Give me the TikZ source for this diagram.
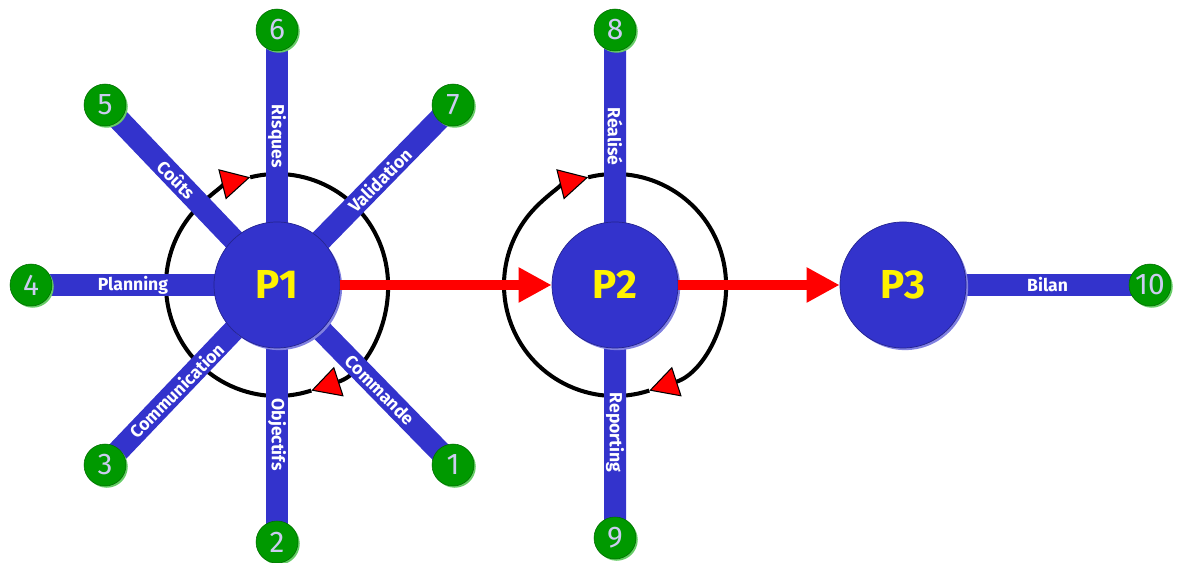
\documentclass[tikz,border=0pt]{standalone}
\usepackage{fontspec}
\setmainfont{Fira Sans}
\usetikzlibrary{arrows.meta, shadows, backgrounds, positioning}

\definecolor{pblue}{HTML}{3333CC}
\definecolor{plight}{HTML}{8080E0}
\definecolor{ngreen}{HTML}{009900}
\definecolor{nlight}{HTML}{66CC66}
\definecolor{numtxt}{HTML}{CCCCF0}

\begin{document}
\begin{tikzpicture}[node distance=6.76cm,
 proc/.style={circle, fill=pblue, draw=pblue!70!black, line width=0.4pt,
   minimum size=2.52cm, inner sep=0pt, text=yellow,
   font=\bfseries\fontsize{23}{23}\selectfont,
   drop shadow={shadow xshift=1.2pt, shadow yshift=-1.2pt, fill=plight, opacity=1}},
 num/.style={circle, fill=ngreen, draw=ngreen!70!black, line width=0.3pt,
   minimum size=0.84cm, inner sep=0pt, text=numtxt,
   font=\fontsize{17}{17}\selectfont,
   drop shadow={shadow xshift=1pt, shadow yshift=-1pt, fill=nlight, opacity=1}},
 bar/.style={draw=pblue, line width=0.44cm, shorten <=-0.2cm, shorten >=-0.2cm},
 lbl/.style={text=white, inner sep=0pt, anchor=center,
   font=\bfseries\fontsize{10}{10}\selectfont},
 ring/.style={draw=black, line width=2.3pt},
 turn/.style={-{Triangle[length=0.58cm, width=0.62cm, fill=red, line width=0.6pt]}},
 flow/.style={draw=red, line width=5.7pt, -{Triangle[length=0.66cm, width=0.66cm]}}]
  \useasboundingbox (0,0) rectangle (23.6,11.26);

  \node[proc] (P1) at (5.54,5.56) {P1};
  \node[proc] (P2) [right of=P1] {P2};
  \node[proc] (P3) [right of=P2, node distance=5.76cm] {P3};

  \node[num] (n1) at (9.06,1.96) {1};
  \node[num] (n2) at (5.54,0.42) {2};
  \node[num] (n3) at (2.10,1.96) {3};
  \node[num] (n4) at (0.62,5.56) {4};
  \node[num] (n5) at (2.10,9.16) {5};
  \node[num] (n6) at (5.54,10.66) {6};
  \node[num] (n7) at (9.06,9.16) {7};
  \node[num] (n8) at (12.30,10.66) {8};
  \node[num] (n9) at (12.30,0.50) {9};
  \node[num] (n10) at (23.00,5.56) {10};

  \begin{scope}[on background layer]
   \foreach \p in {P1, P2} {
    \path[ring, turn] (\p.center) ++(288:2.22) arc[start angle=288, end angle=104, radius=2.22cm];
    \path[ring, turn] (\p.center) ++(104:2.22) arc[start angle=104, end angle=-72, radius=2.22cm];}

   \foreach \s/\t/\l/\r in {P1/n1/Commande/-45, P1/n2/Objectifs/-90,
     P1/n3/Communication/45, P1/n4/Planning/0, P1/n5/Coûts/-45,
     P1/n6/Risques/-90, P1/n7/Validation/45, P2/n8/Réalisé/-90,
     P2/n9/Reporting/-90, P3/n10/Bilan/0} {
    \path[bar] (\s) -- (\t) node[lbl, midway, rotate=\r] {\l};}
  \end{scope}

  \draw[flow] (P1) -- (P2);
  \draw[flow] (P2) -- (P3);
\end{tikzpicture}
\end{document}
